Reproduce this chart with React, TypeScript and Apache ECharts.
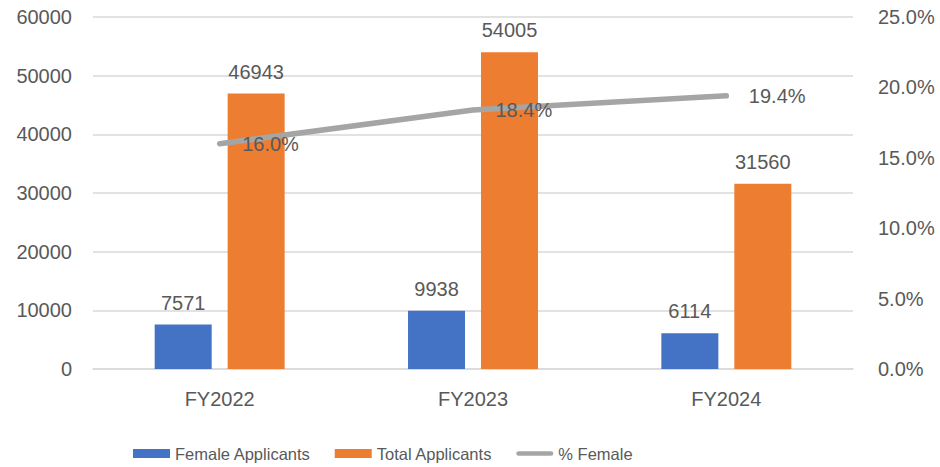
import React, { useEffect, useRef } from "react";
import * as echarts from "echarts";

const categories = ["FY2022", "FY2023", "FY2024"];
const femaleApplicants = [7571, 9938, 6114];
const totalApplicants = [46943, 54005, 31560];
const pctFemale = [0.16, 0.184, 0.194];

const FONT = "'Liberation Sans', Arial, sans-serif";
const TXT = "#595959";

export default function App() {
  const ref = useRef<HTMLDivElement>(null);
  useEffect(() => {
    if (!ref.current) return;
    const chart = echarts.init(ref.current, null, { renderer: "svg" });
    chart.setOption({
      animation: false,
      textStyle: { fontFamily: FONT },
      grid: { left: 93, right: 87, top: 17, bottom: 98, containLabel: false },
      legend: {
        left: 128,
        top: 440,
        itemWidth: 37,
        itemHeight: 9,
        itemGap: 24,
        textStyle: { fontFamily: FONT, fontSize: 16.5, color: TXT },
        data: [
          { name: "Female Applicants", icon: "rect" },
          { name: "Total Applicants", icon: "rect" },
          { name: "% Female", icon: "path://M2.5,0 L37.5,0 A2.5,2.5 0 0 1 37.5,5 L2.5,5 A2.5,2.5 0 0 1 2.5,0 Z" },
        ],
      },
      xAxis: {
        type: "category",
        data: categories,
        axisLine: { show: true, lineStyle: { color: "#d9d9d9", width: 1.5 } },
        axisTick: { show: false },
        axisLabel: { color: TXT, fontSize: 20, margin: 20, fontFamily: FONT },
      },
      yAxis: [
        {
          type: "value",
          min: 0,
          max: 60000,
          interval: 10000,
          axisLine: { show: false },
          axisTick: { show: false },
          splitLine: { lineStyle: { color: "#d9d9d9", width: 1.5 } },
          axisLabel: {
            color: TXT,
            fontSize: 20,
            margin: 21,
            fontFamily: FONT,
            formatter: (v: number) => String(v),
          },
        },
        {
          type: "value",
          min: 0,
          max: 0.25,
          interval: 0.05,
          axisLine: { show: false },
          axisTick: { show: false },
          splitLine: { show: false },
          axisLabel: {
            color: TXT,
            fontSize: 20,
            margin: 25,
            fontFamily: FONT,
            formatter: (v: number) => (v * 100).toFixed(1) + "%",
          },
        },
      ],
      series: [
        {
          name: "Female Applicants",
          type: "bar",
          data: femaleApplicants,
          barWidth: 57,
          barGap: "28%",
          itemStyle: { color: "#4472C4" },
          label: { show: true, position: "top", distance: 12, color: TXT, fontSize: 20, fontFamily: FONT },
        },
        {
          name: "Total Applicants",
          type: "bar",
          data: totalApplicants,
          barWidth: 57,
          barGap: "28%",
          itemStyle: { color: "#ED7D31" },
          label: { show: true, position: "top", distance: 12, color: TXT, fontSize: 20, fontFamily: FONT },
        },
        {
          name: "% Female",
          type: "line",
          yAxisIndex: 1,
          data: pctFemale,
          symbol: "circle",
          symbolSize: 1,
          showSymbol: true,
          itemStyle: { color: "#A5A5A5" },
          lineStyle: { color: "#A5A5A5", width: 5.5, cap: "round" },
          label: {
            show: true,
            position: "right",
            distance: 22,
            color: TXT,
            fontSize: 20,
            fontFamily: FONT,
            formatter: (p: any) => (p.value * 100).toFixed(1) + "%",
          },
          z: 5,
        },
      ],
    });
    return () => chart.dispose();
  }, []);
  return <div ref={ref} style={{ width: 940, height: 467, position: "absolute", left: 0, top: 0 }} />;
}
